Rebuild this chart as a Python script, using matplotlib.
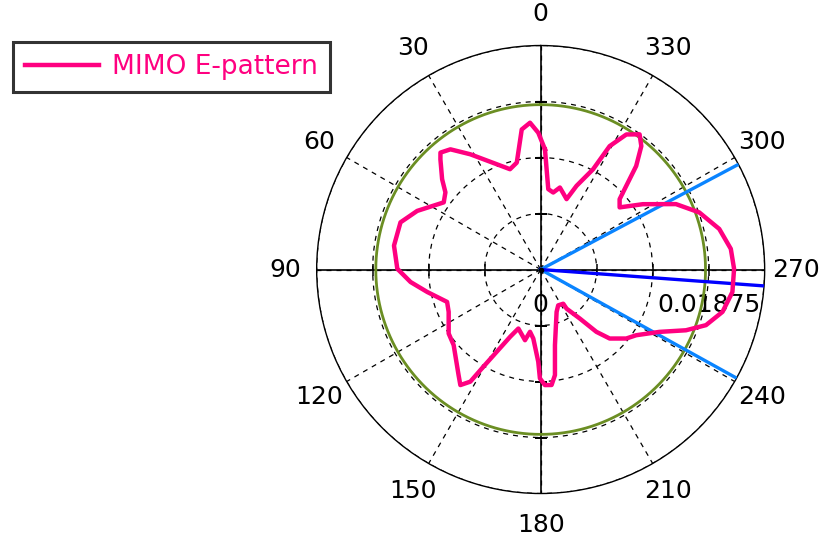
import numpy as np
import matplotlib
matplotlib.use('Agg')
import matplotlib.pyplot as plt

# pattern: angle in degrees (0 at top, CCW), radius in 1e-3
theta_deg = [357.96, 1.0, 4.15, 7.7, 12.6, 17.0, 31.4, 36.9, 40.6, 42.3,
             47.5, 51.0, 55.3, 64.6, 71.4, 80.75, 89.7, 95.5, 101.2, 109.1,
             114.75, 124.8, 131.0, 142.1, 145.2, 147.9, 149.5, 155.6, 159.3, 167.5,
             170.3, 173.9, 178.5, 179.6, 182.1, 185.4, 187.7, 190.7, 200.6, 206.05,
             213.4, 213.5, 218.6, 221.8, 225.0, 231.1, 235.5, 242.3, 247.3, 251.4,
             256.9, 263.3, 270.2, 276.2, 282.8, 289.8, 295.8, 302.6, 308.2, 311.7,
             317.3, 320.8, 323.8, 327.6, 330.8, 332.4, 336.8, 339.8, 346.8, 350.75,
             354.6, 357.96]
r_e = [10.07, 11.45, 12.32, 11.83, 9.17, 8.78, 11.30, 12.58, 12.89, 12.47,
       11.19, 10.26, 9.87, 11.44, 12.38, 12.44, 12.00, 10.94, 9.68, 8.29,
       8.48, 9.38, 9.65, 11.19, 11.78, 11.08, 9.43, 6.18, 5.28, 6.06,
       5.29, 5.81, 7.72, 9.11, 9.68, 9.71, 8.92, 6.44, 3.79, 3.34,
       3.43, 3.93, 5.25, 7.00, 8.17, 9.20, 9.71, 11.23, 13.18, 14.60,
       15.63, 16.16, 16.19, 16.01, 15.33, 14.11, 12.58, 10.15, 8.41, 8.85,
       11.79, 13.33, 14.02, 13.39, 11.83, 9.47, 7.62, 6.28, 7.05, 6.53,
       6.76, 10.07]

r_max = 0.01875
r_green = 0.0138
beam_deg = [241, 298]      # light blue sector edges
peak_deg = 265.8           # dark blue direction
angle_labels = [0, 30, 60, 90, 120, 150, 180, 210, 240, 270, 300, 330]

fig = plt.figure(figsize=(8.21, 5.40), dpi=100)
ax = fig.add_axes([0.3857, 0.0861, 0.5457, 0.8296], projection='polar')
ax.set_theta_zero_location('N')
ax.set_theta_direction(1)
ax.set_ylim(0, r_max)

rings = np.linspace(0, r_max, 5)[1:]
ax.set_yticks(rings)
ax.set_yticklabels([])
ax.set_xticks(np.radians(angle_labels))
ax.set_xticklabels([str(a) for a in angle_labels], fontsize=18)
ax.tick_params(axis='x', pad=12)
ax.grid(True, color='black', linestyle=(0, (4, 4)), linewidth=0.9)
ax.spines['polar'].set_linewidth(1.0)

# solid axis cross
for a in [0, 90, 180, 270]:
    ax.plot([np.radians(a)] * 2, [0, r_max], color='black', lw=1.2, zorder=3)
# small ticks on axes at ring radii
for a, m in [(270, '|'), (90, '|'), (0, '_'), (180, '_')]:
    ax.plot([np.radians(a)] * 3, rings[:3], ls='none', marker=m, ms=9, mew=1.1,
            color='black', zorder=3)

circ = np.linspace(0, 2 * np.pi, 361)
ax.plot(circ, np.full_like(circ, r_green), color='#6b8e23', lw=2.0, zorder=4)

for b in beam_deg:
    ax.plot([np.radians(b)] * 2, [0, r_max], color='#0a84ff', lw=2.4, zorder=5)
ax.plot([np.radians(peak_deg)] * 2, [0, r_max], color='#0000ff', lw=2.4, zorder=5)

line, = ax.plot(np.radians(theta_deg), np.array(r_e) * 1e-3, color='#ff0080',
                lw=3.2, zorder=6, label='MIMO E-pattern')
ax.plot([0], [0], 'o', color='black', ms=3, zorder=7)

ax.text(0.5, 0.42, '0', transform=ax.transAxes, ha='center', va='center', fontsize=18)
ax.text(0.992, 0.42, '0.01875', transform=ax.transAxes, ha='right', va='center', fontsize=18)

leg = fig.legend(handles=[line], loc='upper left', bbox_to_anchor=(13 / 821, 1 - 42 / 540),
                 fontsize=19, frameon=True, fancybox=False, borderaxespad=0,
                 handlelength=2.8, handletextpad=0.5, labelcolor='#ff0080', borderpad=0.45)
leg.get_frame().set_edgecolor('black')
leg.get_frame().set_linewidth(2.2)

fig.savefig('out.png', dpi=100)
